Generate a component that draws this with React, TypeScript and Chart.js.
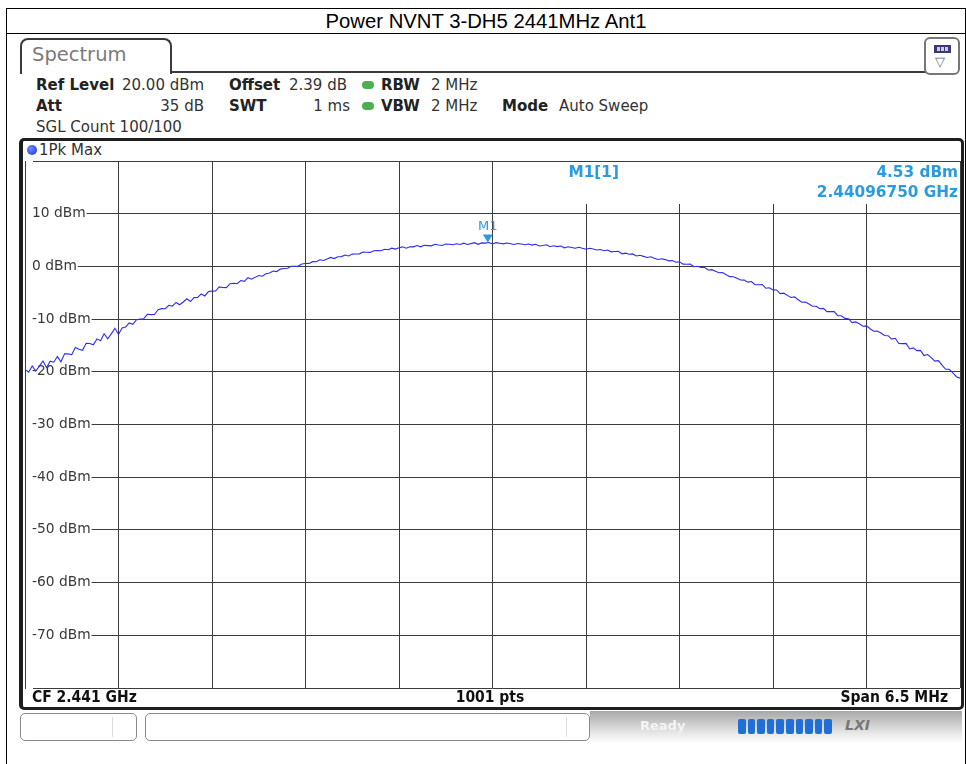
import React, { useEffect, useRef } from 'react';
import { Chart, registerables } from 'chart.js';

Chart.register(...registerables);

const TITLE = 'Power NVNT 3-DH5 2441MHz Ant1';
const START_KHZ = 2437750;
const STOP_KHZ = 2444250;
const STEP_KHZ = 25;
const DIV_KHZ = 650;

const LEVEL_DBM = [
  -19.55, -20.07, -18.88, -19.84, -18.91, -17.94, -19.22, -17.98, -18.18, -17.11,
  -18.11, -16.59, -16.6, -16.75, -15.37, -15.74, -15.93, -14.6, -14.62, -14.86,
  -13.75, -14.12, -12.78, -13.74, -12.81, -11.74, -12.92, -11.67, -11.49, -10.73,
  -11.0, -10.12, -10.0, -9.93, -9.09, -9.15, -9.12, -8.23, -8.01, -8.03,
  -7.38, -7.54, -6.84, -7.27, -6.76, -6.15, -6.66, -5.92, -5.89, -5.23,
  -5.61, -4.77, -4.7, -4.68, -3.89, -4.0, -4.02, -3.28, -3.21, -3.28,
  -2.68, -2.84, -2.14, -2.42, -2.08, -1.72, -1.86, -1.39, -1.24, -0.88,
  -0.98, -0.52, -0.4, -0.35, 0.04, 0.03, 0.06, 0.45, 0.54, 0.57,
  0.9, 0.89, 1.26, 1.13, 1.42, 1.71, 1.49, 1.84, 1.86, 2.15,
  1.97, 2.33, 2.35, 2.38, 2.74, 2.68, 2.66, 2.98, 2.99, 2.97,
  3.25, 3.17, 3.46, 3.28, 3.52, 3.73, 3.44, 3.74, 3.71, 3.95,
  3.72, 4.01, 3.95, 3.9, 4.19, 4.06, 3.96, 4.23, 4.19, 4.1,
  4.3, 4.17, 4.41, 4.16, 4.32, 4.5, 4.19, 4.46, 4.41, 4.53,
  4.27, 4.5, 4.4, 4.28, 4.45, 4.31, 4.16, 4.35, 4.24, 4.1,
  4.25, 4.04, 4.21, 3.88, 3.97, 4.1, 3.74, 3.91, 3.76, 3.87,
  3.52, 3.73, 3.6, 3.45, 3.64, 3.43, 3.26, 3.43, 3.29, 3.1,
  3.2, 2.97, 3.11, 2.76, 2.82, 2.86, 2.39, 2.51, 2.31, 2.37,
  1.97, 2.1, 1.9, 1.7, 1.84, 1.56, 1.31, 1.45, 1.29, 1.05,
  1.1, 0.79, 0.86, 0.43, 0.42, 0.43, -0.06, 0.04, -0.19, -0.2,
  -0.68, -0.62, -0.9, -1.2, -1.16, -1.57, -1.94, -1.95, -2.26, -2.58,
  -2.6, -2.99, -2.86, -3.48, -3.47, -3.43, -4.14, -4.06, -4.46, -4.47,
  -5.17, -5.08, -5.5, -5.9, -5.79, -6.33, -6.81, -6.75, -7.14, -7.57,
  -7.55, -8.04, -7.96, -8.58, -8.57, -8.58, -9.34, -9.36, -9.86, -9.92,
  -10.67, -10.53, -10.9, -11.35, -11.29, -11.83, -12.31, -12.25, -12.64, -13.12,
  -13.15, -13.79, -13.64, -14.62, -14.66, -14.6, -15.66, -15.47, -15.99, -15.93,
  -16.91, -16.72, -17.3, -17.98, -17.89, -18.75, -19.52, -19.53, -20.21, -20.93,
  -21.2,
];

const Y_MIN = -80;
const Y_MAX = 20;
const Y_TICK_VALUES = [20, 10, 0, -10, -20, -30, -40, -50, -60, -70, -80];
const Y_TICK_LABELS = ['', '10 dBm', '0 dBm', '-10 dBm', '-20 dBm', '-30 dBm', '-40 dBm', '-50 dBm', '-60 dBm', '-70 dBm', ''];

const MARKER_KHZ = 2440967.5;
const MARKER_DBM = 4.53;
const MARKER_NAME = 'M1';
const MARKER_INFO = ['M1[1]', '4.53 dBm', '2.44096750 GHz'];

const HEADER_ROW1 = ['Ref Level', '20.00 dBm', 'Offset', '2.39 dB', 'RBW', '2 MHz'];
const HEADER_ROW2 = ['Att', '35 dB', 'SWT', '1 ms', 'VBW', '2 MHz', 'Mode', 'Auto Sweep'];
const HEADER_ROW3 = 'SGL Count 100/100';
const TRACE_LABEL = '1Pk Max';
const FOOTER = ['CF 2.441 GHz', '1001 pts', 'Span 6.5 MHz'];

const FONT = '"DejaVu Sans", sans-serif';
const MARKER_COLOR = '#2a9be0';

const centerKhz = () => (START_KHZ + STOP_KHZ) / 2;

const markerPlugin = {
  id: 'markerPlugin',
  beforeDatasetsDraw(chart: any) {
    const { ctx, chartArea, scales } = chart;
    const cx = scales.x.getPixelForValue(centerKhz());
    const boxLeft = cx + 2;
    ctx.save();
    ctx.fillStyle = '#ffffff';
    ctx.fillRect(boxLeft, chartArea.top + 1, chartArea.right - boxLeft - 1, 42);
    ctx.fillStyle = MARKER_COLOR;
    ctx.font = `bold 15.3px ${FONT}`;
    ctx.textBaseline = 'middle';
    ctx.textAlign = 'left';
    ctx.fillText(MARKER_INFO[0], cx + 76, chartArea.top + 12);
    ctx.textAlign = 'right';
    ctx.fillText(MARKER_INFO[1], chartArea.right - 2, chartArea.top + 12);
    ctx.fillText(MARKER_INFO[2], chartArea.right - 2, chartArea.top + 32);
    ctx.restore();
  },
  afterDatasetsDraw(chart: any) {
    const { ctx, scales } = chart;
    const px = scales.x.getPixelForValue(MARKER_KHZ);
    const py = scales.y.getPixelForValue(MARKER_DBM);
    ctx.save();
    ctx.fillStyle = MARKER_COLOR;
    ctx.beginPath();
    ctx.moveTo(px, py);
    ctx.lineTo(px - 5, py - 8);
    ctx.lineTo(px + 5, py - 8);
    ctx.closePath();
    ctx.fill();
    ctx.font = `13px ${FONT}`;
    ctx.textAlign = 'center';
    ctx.textBaseline = 'middle';
    ctx.fillText(MARKER_NAME, px, py - 16);
    ctx.restore();
  },
};

function SpectrumChart() {
  const ref = useRef<HTMLCanvasElement | null>(null);
  useEffect(() => {
    if (!ref.current) return;
    const points = LEVEL_DBM.map((v, i) => ({ x: START_KHZ + i * STEP_KHZ, y: v }));
    const chart = new Chart(ref.current, {
      type: 'line',
      data: {
        datasets: [
          {
            data: points,
            borderColor: '#2c2cf4',
            borderWidth: 1.1,
            pointRadius: 0,
            tension: 0,
          },
        ],
      },
      options: {
        animation: false,
        responsive: false,
        maintainAspectRatio: false,
        devicePixelRatio: 1,
        layout: { padding: { left: 1, top: 1, right: 1, bottom: 2 } },
        plugins: { legend: { display: false }, tooltip: { enabled: false } },
        scales: {
          x: {
            type: 'linear',
            min: START_KHZ,
            max: STOP_KHZ,
            ticks: { display: false, stepSize: DIV_KHZ },
            grid: { color: '#3c3c3c', lineWidth: 1, drawTicks: false },
            border: { display: false },
            afterFit: (s: any) => {
              s.height = 0;
              s.paddingLeft = 0;
              s.paddingRight = 0;
            },
          },
          y: {
            type: 'linear',
            min: Y_MIN,
            max: Y_MAX,
            ticks: {
              stepSize: 10,
              mirror: true,
              padding: 7,
              color: '#3a3a3a',
              font: { family: 'DejaVu Sans', size: 13.8 },
              showLabelBackdrop: true,
              backdropColor: '#ffffff',
              backdropPadding: { top: 2, bottom: 2, left: 6, right: 1 },
              callback: (v: any) => {
                const idx = Y_TICK_VALUES.indexOf(Number(v));
                return idx >= 0 ? Y_TICK_LABELS[idx] : '';
              },
            },
            grid: { color: '#3c3c3c', lineWidth: 1, drawTicks: false },
            border: { display: false },
            afterFit: (s: any) => {
              s.width = 0;
              s.paddingTop = 0;
              s.paddingBottom = 0;
            },
          },
        },
      },
      plugins: [markerPlugin],
    });
    return () => chart.destroy();
  }, []);
  return (
    <canvas
      ref={ref}
      width={937}
      height={530}
      style={{ position: 'absolute', left: 24, top: 160, width: 937, height: 530 }}
    />
  );
}

const txt = (left: number, top: number, s: string, extra: any = {}) => (
  <span
    style={{
      position: 'absolute',
      left,
      top,
      font: `15px ${FONT}`,
      color: '#333',
      whiteSpace: 'nowrap',
      lineHeight: '18px',
      ...extra,
    }}
  >
    {s}
  </span>
);

const bold = { fontWeight: 'bold', color: '#222' };
const footFont = { font: `bold 15.5px "DejaVu Sans Condensed", ${FONT}`, color: '#111' };

export default function App() {
  return (
    <div style={{ position: 'absolute', left: 0, top: 0, width: 966, height: 764, background: '#fff', overflow: 'hidden' }}>
      {/* outer table border */}
      <div style={{ position: 'absolute', left: 6, top: 8, width: 958, height: 800, border: '1px solid #000' }} />
      <div style={{ position: 'absolute', left: 6, top: 33, width: 960, height: 1, background: '#000' }} />
      <div
        style={{
          position: 'absolute',
          left: 6,
          top: 9,
          width: 960,
          height: 24,
          textAlign: 'center',
          font: '20.3px "Liberation Sans", Arial, sans-serif',
          lineHeight: '24px',
          color: '#000',
        }}
      >
        {TITLE}
      </div>

      {/* tab */}
      <div
        style={{
          position: 'absolute',
          left: 20,
          top: 38,
          width: 148,
          height: 34,
          border: '2px solid #3a3a3a',
          borderBottom: 'none',
          borderRadius: '8px 8px 0 0',
          background: '#fff',
        }}
      />
      {txt(32, 44, 'Spectrum', { font: `19.5px ${FONT}`, color: '#7a7a7a', lineHeight: '22px' })}
      <div style={{ position: 'absolute', left: 170, top: 71, width: 757, height: 2, background: '#3a3a3a' }} />
      <div
        style={{
          position: 'absolute',
          left: 924,
          top: 37,
          width: 32,
          height: 34,
          border: '2px solid #777',
          borderRadius: 6,
          background: '#fff',
        }}
      >
        <div style={{ position: 'absolute', left: 8, top: 6, width: 15, height: 6, background: '#3a3a7a', border: '1px solid #3a3a7a' }}>
          <div style={{ position: 'absolute', left: 2, top: 1, width: 3, height: 4, background: '#ccd' }} />
          <div style={{ position: 'absolute', left: 6, top: 1, width: 3, height: 4, background: '#ccd' }} />
          <div style={{ position: 'absolute', left: 10, top: 1, width: 3, height: 4, background: '#ccd' }} />
        </div>
        <div style={{ position: 'absolute', left: 9, top: 15, fontSize: 13, color: '#667', fontFamily: FONT }}>▽</div>
      </div>

      {/* header */}
      {txt(36, 76, HEADER_ROW1[0], bold)}
      {txt(122, 76, HEADER_ROW1[1])}
      {txt(229, 76, HEADER_ROW1[2], bold)}
      {txt(289, 76, HEADER_ROW1[3])}
      <div style={{ position: 'absolute', left: 362, top: 81, width: 12, height: 8, borderRadius: 5, background: '#4caf50' }} />
      {txt(381, 76, HEADER_ROW1[4], bold)}
      {txt(431, 76, HEADER_ROW1[5])}

      {txt(36, 97, HEADER_ROW2[0], bold)}
      {txt(0, 97, HEADER_ROW2[1], { width: 204, textAlign: 'right' })}
      {txt(229, 97, HEADER_ROW2[2], bold)}
      {txt(0, 97, HEADER_ROW2[3], { width: 350, textAlign: 'right' })}
      <div style={{ position: 'absolute', left: 362, top: 102, width: 12, height: 8, borderRadius: 5, background: '#4caf50' }} />
      {txt(381, 97, HEADER_ROW2[4], bold)}
      {txt(431, 97, HEADER_ROW2[5])}
      {txt(502, 97, HEADER_ROW2[6], bold)}
      {txt(559, 97, HEADER_ROW2[7])}

      {txt(36, 118, HEADER_ROW3)}

      {/* panel */}
      <div
        style={{
          position: 'absolute',
          left: 19,
          top: 138,
          width: 938,
          height: 566,
          border: '3px solid #1e1e1e',
          borderLeftWidth: 4,
          borderRadius: 5,
        }}
      />
      <div
        style={{
          position: 'absolute',
          left: 27,
          top: 145,
          width: 10,
          height: 10,
          borderRadius: 5,
          background: 'radial-gradient(circle at 35% 35%, #6f8cff, #1a2fd0)',
        }}
      />
      {txt(39, 141, TRACE_LABEL, { lineHeight: '18px' })}

      <SpectrumChart />

      {txt(32, 688, FOOTER[0], footFont)}
      {txt(0, 688, FOOTER[1], { ...footFont, width: 980, textAlign: 'center' })}
      {txt(0, 688, FOOTER[2], { ...footFont, width: 948, textAlign: 'right' })}

      {/* status bar */}
      <div style={{ position: 'absolute', left: 590, top: 711, width: 372, height: 32, background: 'linear-gradient(to bottom, #a8a8a8, #e8e8e8 70%, #ffffff)' }} />
      <div style={{ position: 'absolute', left: 20, top: 713, width: 115, height: 26, border: '1px solid #8a8a8a', borderRadius: 5, background: '#fff' }}>
        <div style={{ position: 'absolute', left: 91, top: 3, width: 1, height: 20, background: '#ddd' }} />
      </div>
      <div style={{ position: 'absolute', left: 145, top: 713, width: 443, height: 26, border: '1px solid #8a8a8a', borderRadius: 5, background: '#fff' }}>
        <div style={{ position: 'absolute', left: 420, top: 3, width: 1, height: 20, background: '#ddd' }} />
      </div>
      {txt(640, 717, 'Ready', { font: `bold 13px ${FONT}`, color: '#f4f4f4' })}
      <div style={{ position: 'absolute', left: 738, top: 719, width: 94, height: 15, display: 'flex', gap: 2 }}>
        {[0, 1, 2, 3, 4, 5, 6, 7, 8, 9].map((k) => (
          <div key={k} style={{ flex: 1, background: '#1f6fd6', borderRadius: 2 }} />
        ))}
      </div>
      {txt(845, 716, 'LXI', { font: `italic bold 14px ${FONT}`, color: '#777' })}
    </div>
  );
}
